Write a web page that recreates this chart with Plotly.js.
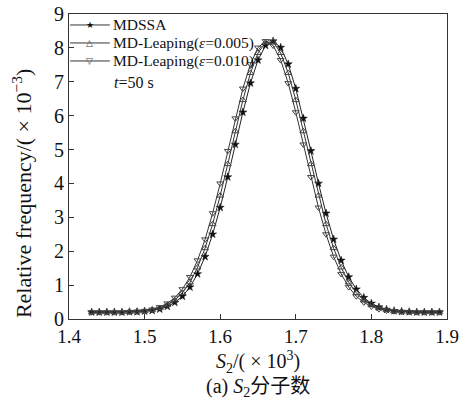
<!DOCTYPE html>
<html>
<head>
<meta charset="utf-8">
<script src="https://cdn.plot.ly/plotly-3.0.1.min.js"></script>
<style>html,body{margin:0;padding:0;background:#fff;}#chart{width:471px;height:405px;}</style>
</head>
<body>
<div id="chart"></div>
<script>
const xVals = [1.43,1.44,1.45,1.46,1.47,1.48,1.49,1.50,1.51,1.52,1.53,1.54,1.55,1.56,1.57,1.58,1.59,1.60,1.61,1.62,1.63,1.64,1.65,1.66,1.67,1.68,1.69,1.70,1.71,1.72,1.73,1.74,1.75,1.76,1.77,1.78,1.79,1.80,1.81,1.82,1.83,1.84,1.85,1.86,1.87,1.88,1.89];
const mdssa = [0.20,0.20,0.20,0.20,0.20,0.21,0.21,0.23,0.25,0.29,0.37,0.49,0.67,0.94,1.33,1.84,2.50,3.29,4.19,5.15,6.10,6.96,7.64,8.07,8.20,8.01,7.52,6.80,5.92,4.96,4.00,3.12,2.35,1.73,1.24,0.88,0.63,0.46,0.35,0.28,0.24,0.22,0.21,0.20,0.20,0.20,0.20];
const leap005 = [0.20,0.20,0.20,0.20,0.20,0.21,0.22,0.23,0.27,0.32,0.41,0.55,0.77,1.08,1.52,2.09,2.80,3.64,4.57,5.54,6.46,7.26,7.85,8.16,8.18,7.85,7.26,6.46,5.54,4.57,3.64,2.80,2.09,1.52,1.08,0.77,0.55,0.41,0.32,0.27,0.23,0.22,0.21,0.20,0.20,0.20,0.20];
const leap010 = [0.20,0.20,0.20,0.20,0.20,0.21,0.22,0.24,0.28,0.35,0.46,0.63,0.88,1.24,1.73,2.35,3.12,4.00,4.96,5.92,6.80,7.52,8.01,8.20,8.07,7.64,6.96,6.10,5.15,4.19,3.29,2.50,1.84,1.33,0.94,0.67,0.49,0.37,0.29,0.25,0.23,0.21,0.21,0.20,0.20,0.20,0.20];
const seriesNames = ['MDSSA','MD-Leaping(<i>ε</i>=0.005)','MD-Leaping(<i>ε</i>=0.010)'];
const legendGlyphs = ['★','△','▽'];
const xTicks = [1.4,1.5,1.6,1.7,1.8,1.9];
const yTicks = [0,1,2,3,4,5,6,7,8,9];

const serif = '"Liberation Serif", "Times New Roman", "Noto Sans CJK SC", serif';

const traces = [
  {x: xVals, y: mdssa, name: seriesNames[0], mode: 'lines+markers', type: 'scatter',
   line: {color: '#222', width: 1},
   marker: {symbol: 'star', size: 6, color: '#111', line: {color: '#111', width: 0.5}}},
  {x: xVals, y: leap005, name: seriesNames[1], mode: 'lines+markers', type: 'scatter',
   line: {color: '#333', width: 1},
   marker: {symbol: 'triangle-up-open', size: 6, color: '#444', line: {color: '#444', width: 1}}},
  {x: xVals, y: leap010, name: seriesNames[2], mode: 'lines+markers', type: 'scatter',
   line: {color: '#333', width: 1},
   marker: {symbol: 'triangle-down-open', size: 6, color: '#444', line: {color: '#444', width: 1}}}
];

// hand-built legend (tight row spacing like the reference)
const legY = [0.964, 0.905, 0.846];
const shapes = [];
const annotations = [];
seriesNames.forEach((nm, i) => {
  shapes.push({type: 'line', xref: 'paper', yref: 'paper', x0: 0.003, x1: 0.108, y0: legY[i], y1: legY[i],
               line: {color: '#333', width: 1}});
  annotations.push({xref: 'paper', yref: 'paper', x: 0.0555, y: legY[i], xanchor: 'center', yanchor: 'middle',
                    showarrow: false, text: legendGlyphs[i],
                    font: {family: '"DejaVu Sans", sans-serif', size: 9, color: i === 0 ? '#111' : '#444'}});
  annotations.push({xref: 'paper', yref: 'paper', x: 0.111, y: legY[i], xanchor: 'left', yanchor: 'middle',
                    showarrow: false, text: nm, font: {family: serif, size: 15.5, color: '#111'}});
});
annotations.push(
  {xref: 'paper', yref: 'paper', x: 0.113, y: 0.777, xanchor: 'left', yanchor: 'middle', showarrow: false,
   text: '<i>t</i>=50 s', font: {family: serif, size: 16, color: '#111'}},
  {xref: 'paper', yref: 'paper', x: -0.124, y: 0.41, xanchor: 'center', yanchor: 'middle', showarrow: false,
   textangle: -90, text: 'Relative frequency/( × 10<sup>−3</sup>)', font: {family: serif, size: 22, color: '#111'}},
  {xref: 'paper', yref: 'paper', x: 0.5, y: -0.142, xanchor: 'center', yanchor: 'middle', showarrow: false,
   text: '<i>S</i><sub>2</sub>/( × 10<sup>3</sup>)', font: {family: serif, size: 20, color: '#111'}},
  {xref: 'paper', yref: 'paper', x: 0.5, y: -0.225, xanchor: 'center', yanchor: 'middle', showarrow: false,
   text: '(a) <i>S</i><sub>2</sub>分子数', font: {family: serif, size: 20, color: '#111'}}
);

const layout = {
  width: 471, height: 405,
  margin: {l: 69, r: 24, t: 14, b: 86},
  paper_bgcolor: '#fff', plot_bgcolor: '#fff',
  font: {family: serif, size: 17, color: '#111'},
  showlegend: false,
  xaxis: {range: [1.4, 1.9], tickvals: xTicks, ticktext: xTicks.map(v => v.toFixed(1)),
          ticks: 'inside', ticklen: 5, tickcolor: '#333', showline: true, linecolor: '#333', linewidth: 1,
          mirror: true, showgrid: false, zeroline: false, tickfont: {family: serif, size: 19}},
  yaxis: {range: [0, 9], tickvals: yTicks, ticks: 'inside', ticklen: 5, tickcolor: '#333',
          showline: true, linecolor: '#333', linewidth: 1, mirror: true, showgrid: false, zeroline: false,
          tickfont: {family: serif, size: 20}},
  shapes: shapes,
  annotations: annotations
};

Plotly.newPlot('chart', traces, layout, {displayModeBar: false, staticPlot: true});
</script>
</body>
</html>
